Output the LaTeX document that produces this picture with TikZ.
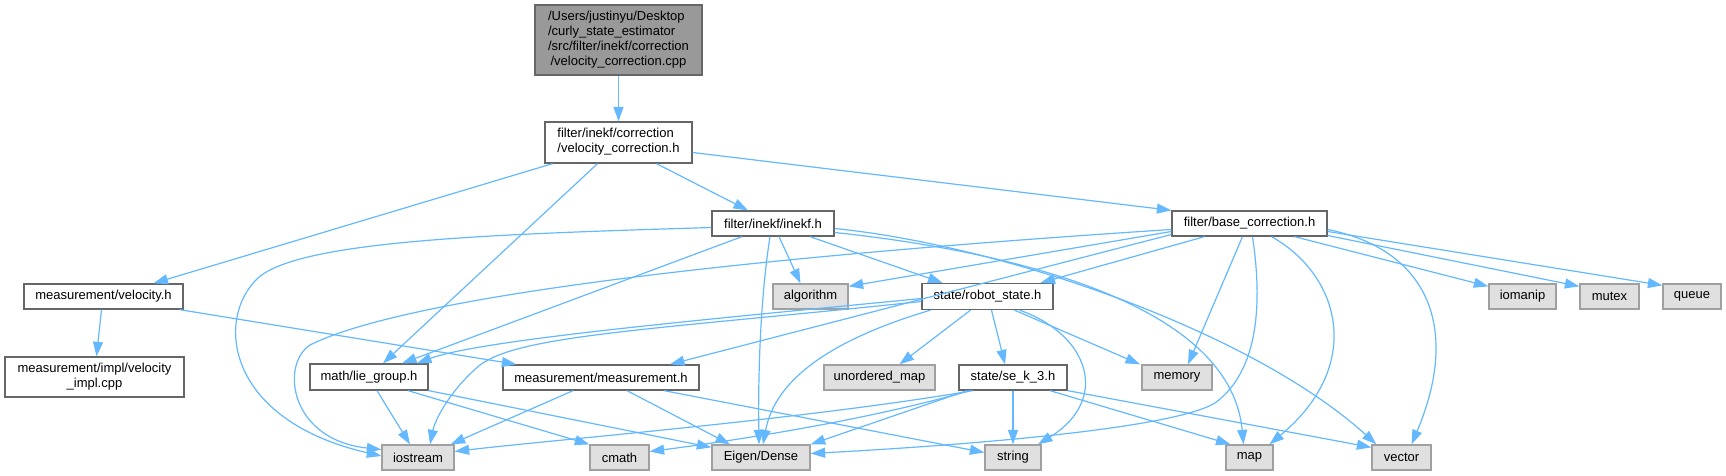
\documentclass[tikz,border=0pt]{standalone}
\usepackage{fontspec}
\setmainfont{Liberation Sans}
\usetikzlibrary{arrows.meta,calc}
\definecolor{edgeblue}{HTML}{63B8FF}
\definecolor{boxborder}{HTML}{666666}
\definecolor{extborder}{HTML}{A0A0A0}
\definecolor{extfill}{HTML}{E0E0E0}
\definecolor{rootfill}{HTML}{999999}
\newcommand{\mlab}[2]{\begin{tabular}{@{}l@{}}#1\\\multicolumn{1}{@{}c@{}}{#2}\end{tabular}}
\begin{document}
\begin{tikzpicture}[x=1pt,y=-1pt,
  every node/.style={font=\fontsize{13}{15}\selectfont, inner sep=0pt, align=center, text=black},
  hdr/.style={draw=boxborder, fill=white, line width=1.3pt},
  ext/.style={draw=extborder, fill=extfill, line width=1.3pt},
  rootbox/.style={draw=boxborder, fill=rootfill, line width=1.3pt},
  dep/.style={draw=edgeblue, line width=1.2pt, -{Triangle[length=14.5pt,width=10pt]}},
]
\useasboundingbox (0,0) rectangle (1726,476);

% nodes
\node[rootbox, minimum width=167pt, minimum height=70pt] (top) at (618.5,40)
  {\mlab{/Users/justinyu/Desktop\\/curly\_state\_estimator\\/src/filter/inekf/correction}{/velocity\_correction.cpp}};
\node[hdr, minimum width=147pt, minimum height=41pt] (vc) at (618.5,142.5)
  {\mlab{filter/inekf/correction}{/velocity\_correction.h}};
\node[hdr, minimum width=122pt, minimum height=25pt] (inekf) at (773,223.5) {filter/inekf/inekf.h};
\node[hdr, minimum width=155pt, minimum height=25pt] (base) at (1249.5,223.5) {filter/base\_correction.h};
\node[hdr, minimum width=159pt, minimum height=25pt] (velh) at (103.5,296.5) {measurement/velocity.h};
\node[hdr, minimum width=179pt, minimum height=40pt] (impl) at (94.5,377)
  {\mlab{measurement/impl/velocity}{\_impl.cpp}};
\node[ext, minimum width=75pt, minimum height=25pt] (algorithm) at (810.5,296.5) {algorithm};
\node[hdr, minimum width=131pt, minimum height=26pt] (robot) at (987.5,296.5) {state/robot\_state.h};
\node[ext, minimum width=67pt, minimum height=25pt] (iomanip) at (1522.5,296.5) {iomanip};
\node[ext, minimum width=59pt, minimum height=25pt] (mutex) at (1609.5,296.5) {mutex};
\node[ext, minimum width=58pt, minimum height=25pt] (queue) at (1692,296.5) {queue};
\node[hdr, minimum width=118pt, minimum height=26pt] (lie) at (369,377) {math/lie\_group.h};
\node[hdr, minimum width=196pt, minimum height=25pt] (meas) at (601,377.5) {measurement/measurement.h};
\node[ext, minimum width=111pt, minimum height=25pt] (umap) at (879.5,377.5) {unordered\_map};
\node[hdr, minimum width=108pt, minimum height=25pt] (sek) at (1013,377.5) {state/se\_k\_3.h};
\node[ext, minimum width=70pt, minimum height=25pt] (memory) at (1177,377.5) {memory};
\node[ext, minimum width=72pt, minimum height=25pt] (iostream) at (418,457.5) {iostream};
\node[ext, minimum width=59pt, minimum height=25pt] (cmath) at (619.5,457.5) {cmath};
\node[ext, minimum width=98pt, minimum height=25pt] (eigen) at (761,457.5) {Eigen/Dense};
\node[ext, minimum width=56pt, minimum height=25pt] (string) at (1013,457.5) {string};
\node[ext, minimum width=47pt, minimum height=25pt] (map) at (1249.5,457.5) {map};
\node[ext, minimum width=59pt, minimum height=25pt] (vector) at (1401.5,457.5) {vector};

% edges from top / velocity_correction.h
\draw[dep] (top) -- (vc);
\draw[dep] ([xshift=-66pt]vc.south) -- ([xshift=50pt]velh.north);
\draw[dep] ([xshift=-21pt]vc.south) -- ([xshift=14pt]lie.north);
\draw[dep] ([xshift=38pt]vc.south) -- ([xshift=-25pt]inekf.north);
\draw[dep] ([yshift=-10pt]vc.east) -- (base.north west);

% inekf.h
\draw[dep] ([yshift=-4pt]inekf.west) .. controls (500,234) and (300,240) .. (258,278)
  .. controls (215,318) and (225,420) .. ([yshift=1.5pt]iostream.west);
\draw[dep] ([xshift=-31pt]inekf.south) -- ([xshift=33pt]lie.north);
\draw[dep] ([xshift=6pt]inekf.south) -- ([xshift=-10pt]algorithm.north);
\draw[dep] ([xshift=-3pt]inekf.south) .. controls (760,300) and (758,380) .. ([xshift=-2pt]eigen.north);
\draw[dep] ([xshift=37pt]inekf.south) -- ([xshift=-45pt]robot.north);
\draw[dep] ([yshift=-9pt]inekf.east) .. controls (1000,250) and (1230,300) .. ([xshift=-6pt]map.north);
\draw[dep] ([yshift=-5pt]inekf.east) .. controls (1000,245) and (1250,330) .. ([xshift=5pt]vector.north west);

% base_correction.h
\draw[dep] ([yshift=-6pt]base.west) .. controls (700,260) and (400,300) .. (310,345)
  .. controls (280,365) and (290,440) .. ([yshift=8pt]iostream.west);
\draw[dep] ([yshift=-8pt]base.west) -- ([yshift=-3pt]algorithm.north east);
\draw[dep] ([yshift=-11pt]base.west) -- ([xshift=69pt]meas.north);
\draw[dep] ([xshift=-45pt]base.south) -- ([xshift=53pt]robot.north);
\draw[dep] ([xshift=-7pt]base.south) -- ([xshift=11pt]memory.north);
\draw[dep] ([xshift=3pt]base.south) .. controls (1262,300) and (1260,370) .. (1215,403)
  .. controls (1170,430) and (950,446) .. ([yshift=4pt]eigen.east);
\draw[dep] ([xshift=22pt]base.south) .. controls (1340,275) and (1365,365) .. ([xshift=20pt]map.north);
\draw[dep] ([yshift=-6pt]base.east) .. controls (1430,250) and (1460,330) .. ([xshift=10pt]vector.north);
\draw[dep] ([xshift=45pt]base.south) -- ([yshift=-3pt]iomanip.north west);
\draw[dep] ([yshift=-12pt]base.east) -- ([yshift=-3pt]mutex.north west);
\draw[dep] ([yshift=-8pt]base.east) -- ([yshift=-2pt]queue.north west);

% velocity.h
\draw[dep] ([xshift=-2pt]velh.south) -- ([xshift=2pt]impl.north);
\draw[dep] ([xshift=-4pt]velh.south east) -- ([xshift=14pt]meas.north west);

% robot_state.h
\draw[dep] ([yshift=-2pt]robot.west) .. controls (700,320) and (480,340) .. ([xshift=48pt]lie.north);
\draw[dep] ([yshift=-5pt]robot.west) .. controls (650,330) and (520,335) .. (480,365)
  .. controls (450,390) and (435,420) .. ([xshift=12pt]iostream.north);
\draw[dep] ([xshift=-57pt]robot.south) .. controls (830,340) and (775,380) .. ([xshift=2pt]eigen.north);
\draw[dep] ([xshift=-17pt]robot.south) -- ([xshift=20pt]umap.north);
\draw[dep] ([xshift=4pt]robot.south) -- ([xshift=-8pt]sek.north);
\draw[dep] ([xshift=27pt]robot.south) -- ([xshift=-37pt]memory.north);
\draw[dep] ([xshift=32pt]robot.south) .. controls (1090,335) and (1110,400) .. ([xshift=25pt]string.north);

% se_k_3.h
\draw[dep] ([xshift=-40pt]sek.south) .. controls (800,420) and (550,440) .. ([yshift=6pt]iostream.east);
\draw[dep] ([xshift=-43pt]sek.south) .. controls (850,425) and (700,445) .. ([yshift=6pt]cmath.east);
\draw[dep] ([xshift=-46pt]sek.south) -- (eigen.north east);
\draw[dep] (sek.south) -- (string.north);
\draw[dep] ([xshift=37pt]sek.south) -- ([xshift=-19pt]map.north);
\draw[dep] (sek.south east) -- ([yshift=-3pt]vector.north west);

% measurement.h
\draw[dep] ([xshift=-28pt]meas.south) -- ([xshift=-4pt]iostream.north east);
\draw[dep] ([xshift=26pt]meas.south) -- ([xshift=-31pt]eigen.north);
\draw[dep] ([xshift=63pt]meas.south) -- ([yshift=5pt]string.west);

% lie_group.h
\draw[dep] ([xshift=8pt]lie.south) -- ([xshift=-8pt]iostream.north);
\draw[dep] ([xshift=39pt]lie.south) -- (cmath.north west);
\draw[dep] (lie.south east) -- ([yshift=-3pt]eigen.north west);
\end{tikzpicture}
\end{document}
